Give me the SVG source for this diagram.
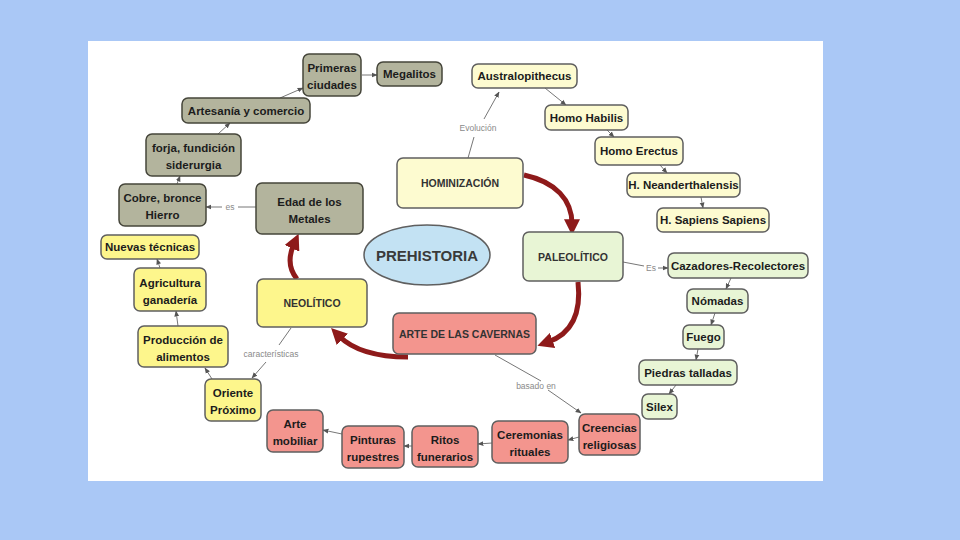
<svg xmlns="http://www.w3.org/2000/svg" width="960" height="540" viewBox="0 0 960 540">
<defs>
<style>
.n rect{stroke:#5f5f5f;stroke-width:1.5}
.g rect{fill:#b3b49d;stroke:#45453a}
.y rect{fill:#fdf68c}
.c rect{fill:#fdfbd0}
.gr rect{fill:#e8f5d5}
.r rect{fill:#f3958e}
text{font-family:"Liberation Sans",Arial,sans-serif;text-anchor:middle}
.t{font-weight:bold;font-size:11.5px;fill:#1c1c1c}
.cap{font-weight:bold;font-size:10.5px;fill:#333}
.lbl{font-size:8.5px;fill:#8a8a8a}
.thin{fill:none;stroke:#777;stroke-width:1}
.big{fill:none;stroke:#8e1a1a;stroke-width:5}
</style>
<marker id="a" viewBox="0 0 10 10" refX="9" refY="5" markerWidth="6" markerHeight="6" orient="auto" markerUnits="userSpaceOnUse"><path d="M0,1 L10,5 L0,9 z" fill="#555"/></marker>
<marker id="b" viewBox="0 0 10 10" refX="3" refY="5" markerWidth="16" markerHeight="16" orient="auto" markerUnits="userSpaceOnUse"><path d="M0,0 L10,5 L0,10 z" fill="#8e1a1a"/></marker>
</defs>
<rect x="0" y="0" width="960" height="540" fill="#aac8f6"/>
<rect x="88" y="41" width="735" height="440" fill="#ffffff"/>

<g id="connectors">
<path class="thin" d="M468 158 L474 137"/>
<path class="thin" d="M484 119 L499 92" marker-end="url(#a)"/>
<text class="lbl" x="478" y="131">Evolución</text>
<path class="thin" d="M545 88 L566 105" marker-end="url(#a)"/>
<path class="thin" d="M607 130 L614 137" marker-end="url(#a)"/>
<path class="thin" d="M660 165 L667 173" marker-end="url(#a)"/>
<path class="thin" d="M701 197 L703 208" marker-end="url(#a)"/>
<path class="thin" d="M623 262 L644 266"/>
<path class="thin" d="M658 268 L668 268" marker-end="url(#a)"/>
<text class="lbl" x="651" y="271">Es</text>
<path class="thin" d="M731 278 L726 289" marker-end="url(#a)"/>
<path class="thin" d="M715 313 L711 325" marker-end="url(#a)"/>
<path class="thin" d="M698 349 L696 360" marker-end="url(#a)"/>
<path class="thin" d="M676 385 L669 394" marker-end="url(#a)"/>
<path class="thin" d="M495 355 L541 381"/>
<path class="thin" d="M548 390 L581 413" marker-end="url(#a)"/>
<text class="lbl" x="536" y="389">basado en</text>
<path class="thin" d="M579 437 L568 440" marker-end="url(#a)"/>
<path class="thin" d="M492 443 L478 444" marker-end="url(#a)"/>
<path class="thin" d="M412 446 L404 446" marker-end="url(#a)"/>
<path class="thin" d="M342 434 L323 430" marker-end="url(#a)"/>
<path class="thin" d="M291 328 L279 345"/>
<path class="thin" d="M266 362 L252 378" marker-end="url(#a)"/>
<text class="lbl" x="271" y="357">características</text>
<path class="thin" d="M212 379 L205 368" marker-end="url(#a)"/>
<path class="thin" d="M178 326 L176 311" marker-end="url(#a)"/>
<path class="thin" d="M160 268 L157 259" marker-end="url(#a)"/>
<path class="thin" d="M256 207 L238 207"/>
<path class="thin" d="M222 207 L206 207" marker-end="url(#a)"/>
<text class="lbl" x="230" y="210">es</text>
<path class="thin" d="M177 184 L180 176" marker-end="url(#a)"/>
<path class="thin" d="M218 134 L230 123" marker-end="url(#a)"/>
<path class="thin" d="M280 98 L303 88" marker-end="url(#a)"/>
<path class="thin" d="M362 75 L377 75" marker-end="url(#a)"/>
<path class="big" d="M524 175 C556 182 572 200 572 224" marker-end="url(#b)"/>
<path class="big" d="M578 282 C582 318 568 335 548 342" marker-end="url(#b)"/>
<path class="big" d="M408 357 C380 357 355 352 339 336" marker-end="url(#b)"/>
<path class="big" d="M297 279 C288 268 289 255 294 244" marker-end="url(#b)"/>
</g>

<g id="prehistoria"><ellipse cx="427" cy="255" rx="63" ry="30" fill="#c3e2f3" stroke="#5f5f5f" stroke-width="1.5"/><text x="427" y="261" font-weight="bold" font-size="15" fill="#3a3a3a">PREHISTORIA</text></g>

<g id="primeras" class="n g"><rect x="303" y="54" width="58" height="42" rx="6"/><text class="t" x="332" y="72">Primeras</text><text class="t" x="332" y="89">ciudades</text></g>
<g id="megalitos" class="n g"><rect x="377" y="62" width="65" height="24" rx="6"/><text class="t" x="409.5" y="78">Megalitos</text></g>
<g id="artesania" class="n g"><rect x="182" y="98" width="128" height="25" rx="6"/><text class="t" x="246" y="114.5">Artesanía y comercio</text></g>
<g id="forja" class="n g"><rect x="146" y="134" width="95" height="42" rx="6"/><text class="t" x="193.5" y="152">forja, fundición</text><text class="t" x="193.5" y="169">siderurgia</text></g>
<g id="cobre" class="n g"><rect x="119" y="184" width="87" height="42" rx="6"/><text class="t" x="162.5" y="202">Cobre, bronce</text><text class="t" x="162.5" y="219">Hierro</text></g>
<g id="edad" class="n g"><rect x="256" y="183" width="107" height="51" rx="6"/><text class="t" x="309.5" y="205.5">Edad de los</text><text class="t" x="309.5" y="222.5">Metales</text></g>

<g id="nuevas" class="n y"><rect x="101" y="235" width="98" height="24" rx="6"/><text class="t" x="150" y="251">Nuevas técnicas</text></g>
<g id="agricultura" class="n y"><rect x="134" y="268" width="72" height="43" rx="6"/><text class="t" x="170" y="286.5">Agricultura</text><text class="t" x="170" y="303.5">ganadería</text></g>
<g id="produccion" class="n y"><rect x="138" y="326" width="90" height="41" rx="6"/><text class="t" x="183" y="343.5">Producción de</text><text class="t" x="183" y="360.5">alimentos</text></g>
<g id="oriente" class="n y"><rect x="205" y="379" width="56" height="42" rx="6"/><text class="t" x="233" y="397">Oriente</text><text class="t" x="233" y="414">Próximo</text></g>
<g id="neolitico" class="n y"><rect x="257" y="279" width="110" height="48" rx="6"/><text class="cap" x="312" y="307">NEOLÍTICO</text></g>

<g id="australo" class="n c"><rect x="472" y="64" width="105" height="24" rx="6"/><text class="t" x="524.5" y="80">Australopithecus</text></g>
<g id="habilis" class="n c"><rect x="545" y="105" width="83" height="25" rx="6"/><text class="t" x="586.5" y="121.5">Homo Habilis</text></g>
<g id="erectus" class="n c"><rect x="595" y="137" width="88" height="28" rx="6"/><text class="t" x="639" y="155">Homo Erectus</text></g>
<g id="neander" class="n c"><rect x="627" y="173" width="113" height="24" rx="6"/><text class="t" x="683.5" y="189">H. Neanderthalensis</text></g>
<g id="sapiens" class="n c"><rect x="657" y="208" width="112" height="24" rx="6"/><text class="t" x="713" y="224">H. Sapiens Sapiens</text></g>
<g id="hominizacion" class="n c"><rect x="397" y="158" width="126" height="50" rx="6"/><text class="cap" x="460" y="187">HOMINIZACIÓN</text></g>

<g id="paleolitico" class="n gr"><rect x="523" y="232" width="100" height="49" rx="6"/><text class="cap" x="573" y="260.5">PALEOLÍTICO</text></g>
<g id="cazadores" class="n gr"><rect x="668" y="253" width="140" height="25" rx="6"/><text class="t" x="738" y="269.5">Cazadores-Recolectores</text></g>
<g id="nomadas" class="n gr"><rect x="687" y="289" width="61" height="24" rx="6"/><text class="t" x="717.5" y="305">Nómadas</text></g>
<g id="fuego" class="n gr"><rect x="683" y="325" width="41" height="24" rx="6"/><text class="t" x="703.5" y="341">Fuego</text></g>
<g id="piedras" class="n gr"><rect x="639" y="360" width="98" height="25" rx="6"/><text class="t" x="688" y="376.5">Piedras talladas</text></g>
<g id="silex" class="n gr"><rect x="642" y="394" width="35" height="25" rx="6"/><text class="t" x="659.5" y="410.5">Silex</text></g>

<g id="arte-cavernas" class="n r"><rect x="393" y="313" width="143" height="41" rx="6"/><text class="cap" x="464.5" y="337.5">ARTE DE LAS CAVERNAS</text></g>
<g id="creencias" class="n r"><rect x="579" y="414" width="61" height="41" rx="6"/><text class="t" x="609.5" y="431.5">Creencias</text><text class="t" x="609.5" y="448.5">religiosas</text></g>
<g id="ceremonias" class="n r"><rect x="492" y="421" width="76" height="42" rx="6"/><text class="t" x="530" y="439">Ceremonias</text><text class="t" x="530" y="456">rituales</text></g>
<g id="ritos" class="n r"><rect x="412" y="426" width="66" height="41" rx="6"/><text class="t" x="445" y="443.5">Ritos</text><text class="t" x="445" y="460.5">funerarios</text></g>
<g id="pinturas" class="n r"><rect x="342" y="426" width="62" height="42" rx="6"/><text class="t" x="373" y="444">Pinturas</text><text class="t" x="373" y="461">rupestres</text></g>
<g id="arte-mobiliar" class="n r"><rect x="267" y="410" width="56" height="42" rx="6"/><text class="t" x="295" y="428">Arte</text><text class="t" x="295" y="445">mobiliar</text></g>
</svg>
